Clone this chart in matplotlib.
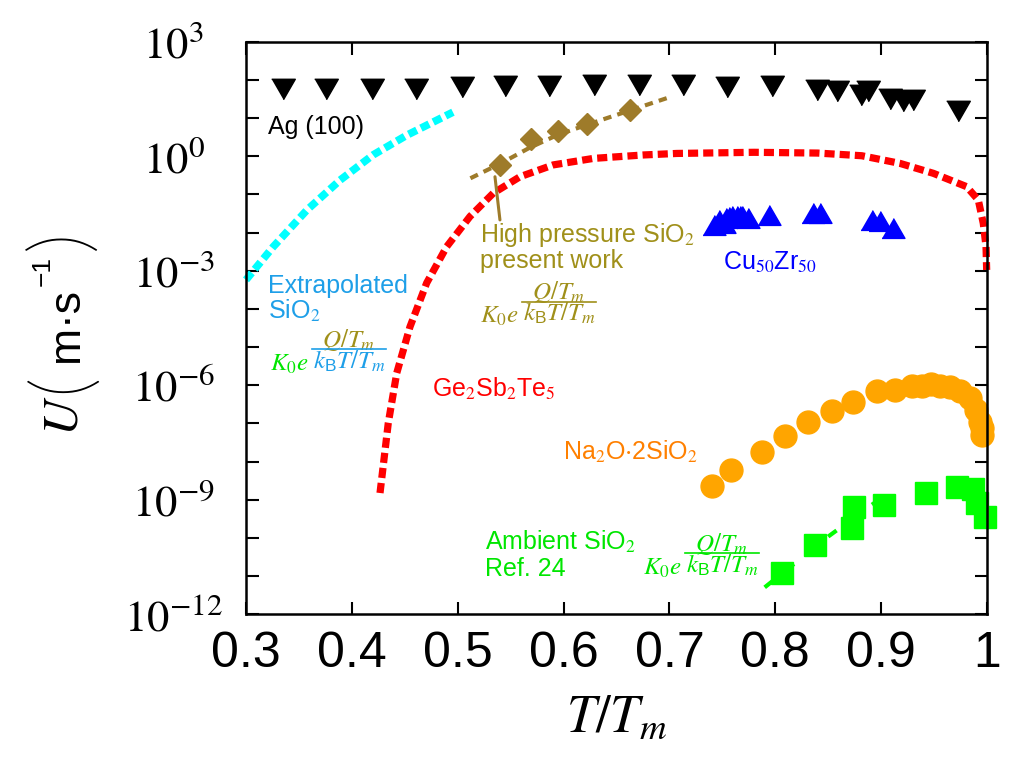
import matplotlib
matplotlib.use("Agg")
import matplotlib.pyplot as plt
import numpy as np
from matplotlib import font_manager, transforms
from matplotlib.lines import Line2D


# Ag (100), black down triangles  (T/Tm, log10 U)
AG_T = [0.335, 0.376, 0.419, 0.461, 0.504, 0.545, 0.586, 0.629, 0.671, 0.713,
        0.754, 0.797, 0.839, 0.858, 0.881, 0.888, 0.908, 0.921, 0.930, 0.973]
AG_LOGU = [1.77, 1.77, 1.76, 1.77, 1.82, 1.84, 1.83, 1.86, 1.86, 1.86,
           1.82, 1.83, 1.74, 1.70, 1.61, 1.70, 1.50, 1.45, 1.48, 1.17]

# extrapolated SiO2 fit (cyan)
EXT_T = [0.300, 0.3255, 0.3576, 0.3888, 0.420, 0.4521, 0.4955]
EXT_LOGU = [-3.24, -2.38, -1.41, -0.63, 0.03, 0.55, 1.15]

# Ge2Sb2Te5 (red)
GST_T = [0.4266, 0.4344, 0.4424, 0.4549, 0.4707, 0.4896, 0.5116, 0.5336, 0.5588,
         0.5903, 0.6281, 0.6753, 0.7069, 0.7800, 0.8400, 0.8817, 0.9178, 0.9493,
         0.9808, 0.9918, 0.9965, 0.9991, 0.9997]
GST_LOGU = [-8.82, -6.99, -5.68, -4.47, -3.32, -2.37, -1.58, -0.97, -0.54,
            -0.23, -0.06, 0.03, 0.07, 0.10, 0.08, 0.01, -0.19, -0.45,
            -0.80, -1.15, -1.76, -2.37, -2.98]

# high pressure SiO2, present work (diamonds + fit)
HP_T = [0.540, 0.569, 0.595, 0.622, 0.663]
HP_LOGU = [-0.23, 0.44, 0.65, 0.83, 1.22]
HP_FIT_T = [0.512, 0.540, 0.568, 0.594, 0.622, 0.661, 0.701]
HP_FIT_LOGU = [-0.58, -0.20, 0.22, 0.55, 0.82, 1.18, 1.55]

# Cu50Zr50 (blue triangles)
CU_T = [0.742, 0.752, 0.747, 0.753, 0.756, 0.759, 0.764, 0.767, 0.769, 0.774,
        0.794, 0.836, 0.842, 0.891, 0.899, 0.911]
CU_LOGU = [-1.80, -1.76, -1.66, -1.62, -1.60, -1.58, -1.58, -1.57, -1.58, -1.62,
           -1.55, -1.50, -1.49, -1.68, -1.70, -1.89]

# Na2O.2SiO2 (orange circles)
NA_T = [0.7399, 0.7584, 0.7872, 0.8089, 0.8306, 0.8533, 0.8731, 0.8958, 0.9128,
        0.9289, 0.9383, 0.9468, 0.9556, 0.9650, 0.9745, 0.9839, 0.9896, 0.9934,
        0.9950, 0.9950]
NA_LOGU = [-8.63, -8.22, -7.74, -7.33, -6.97, -6.66, -6.45, -6.15, -6.12,
           -6.02, -6.02, -5.97, -6.02, -6.05, -6.14, -6.34, -6.65, -6.95,
           -7.13, -7.30]

# ambient SiO2, Ref. 24 (green squares + fit)
AMB_T = [0.8066, 0.8375, 0.8727, 0.8746, 0.9030, 0.9424, 0.9714, 0.9871,
         0.9909, 0.9981]
AMB_LOGU = [-10.92, -10.18, -9.74, -9.18, -9.13, -8.81, -8.67, -8.72,
            -9.09, -9.44]
AMB_FIT_T = [0.790, 0.850, 0.907]
AMB_FIT_LOGU = [-11.29, -9.96, -8.81]

XTICKS = [0.3, 0.4, 0.5, 0.6, 0.7, 0.8, 0.9, 1.0]
XTICKLABELS = ["0.3", "0.4", "0.5", "0.6", "0.7", "0.8", "0.9", "1"]
YEXP_MAJOR = [-12, -9, -6, -3, 0, 3]

OLIVE = "#A0901A"
BROWN = "#9E7B2A"
SKY = "#1E9FE8"
GREEN = "#00E600"

TRI_UP = [(-1, -0.866), (1, -0.866), (0, 0.866)]
TRI_DOWN = [(-1, 0.866), (1, 0.866), (0, -0.866)]


def px2ax(px, py):
    # reference pixel -> axes fraction
    return (px - 246) / 741, (614.5 - py) / 573


def formula(fig, ax, px, py, c_base, c_num, c_den, size=18):
    fx, fy = px2ax(px, py)
    tr = fig.dpi_scale_trans + transforms.ScaledTranslation(fx, fy, ax.transAxes)
    ax.text(0, 0, r"$K_0e$", transform=tr, color=c_base, fontsize=size,
            ha="left", va="baseline")
    ax.text(0.79, 0.24, r"$Q/T_m$", transform=tr, color=c_num, fontsize=size,
            ha="center", va="baseline")
    ax.text(0.79, 0.02, r"$k_{\mathregular{B}}T/T_m$", transform=tr, color=c_den,
            fontsize=size, ha="center", va="baseline")
    fig.add_artist(Line2D([0.42, 1.16], [0.215, 0.215], transform=tr,
                          color=c_den, lw=1.2))


def label(ax, px, py, s, color, size=18):
    fx, fy = px2ax(px, py)
    ax.text(fx, fy, s, transform=ax.transAxes, color=color, fontsize=size,
            ha="left", va="baseline")


def ylabel_piece(fig, px, py, s, size, **kw):
    fig.text(px / 1028, 1 - py / 762, s, fontsize=size, rotation=90,
             rotation_mode="anchor", ha="left", va="baseline", **kw)


def thin_font():
    # a light-weight face for the tall parentheses of the y label
    for fam in ("Lato", "Roboto", "Open Sans", "Inter", "Noto Sans"):
        for f in font_manager.fontManager.ttflist:
            w = f.weight if isinstance(f.weight, int) else 400
            if f.name == fam and f.style == "normal" and w <= 300:
                return font_manager.FontProperties(fname=f.fname)
    return font_manager.FontProperties(family="DejaVu Sans", weight="light")


def main():
    names = {f.name for f in font_manager.fontManager.ttflist}
    sans = "Liberation Sans" if "Liberation Sans" in names else "DejaVu Sans"
    narrow = "Liberation Sans Narrow" if "Liberation Sans Narrow" in names else sans
    plt.rcParams["font.family"] = sans
    plt.rcParams["mathtext.fontset"] = "stix"

    fig = plt.figure(figsize=(10.28, 7.62), dpi=100)
    ax = fig.add_axes([0.2393, 0.1936, 0.7208, 0.7519])
    ax.set_yscale("log")
    ax.set_xlim(0.3, 1.0)
    ax.set_ylim(1e-12, 1e3)

    u = lambda v: 10.0 ** np.asarray(v)

    ax.plot(EXT_T, u(EXT_LOGU), color="#00FFFF", lw=5.5,
            linestyle=(0, (1.2, 0.6)), dash_capstyle="butt", clip_on=False, zorder=2)
    ax.plot(GST_T, u(GST_LOGU), color="#FF0000", lw=5.2,
            linestyle=(0, (1.4, 0.7)), dash_capstyle="butt", clip_on=False, zorder=2)
    ax.plot(HP_FIT_T, u(HP_FIT_LOGU), color=BROWN, lw=3.0,
            linestyle=(0, (2.0, 1.5)), dash_capstyle="butt", zorder=2)
    ax.plot(HP_T, u(HP_LOGU), "D", color=BROWN, ms=11, mec=BROWN, zorder=3)
    ax.plot(AMB_FIT_T, u(AMB_FIT_LOGU), color="#00FF00", lw=3.0,
            linestyle=(0, (2.5, 4.0)), dash_capstyle="butt", zorder=2)
    ax.plot(AMB_T, u(AMB_LOGU), "s", color="#00FF00", ms=16.5, mec="#00FF00",
            clip_on=False, zorder=3)
    ax.plot(NA_T, u(NA_LOGU), "o", color="#FFA500", ms=16.5, mec="#FFA500",
            clip_on=False, zorder=3)
    ax.plot(CU_T, u(CU_LOGU), marker=TRI_UP, ls="none", color="#0000FF",
            ms=16.5, mec="#0000FF", zorder=3)
    ax.plot(AG_T, u(AG_LOGU), marker=TRI_DOWN, ls="none", color="black",
            ms=17, zorder=3)

    # leader line for the high pressure label
    ax.annotate("", xy=(0.5352, 10 ** -0.54), xytext=(0.5399, 10 ** -1.67),
                arrowprops=dict(arrowstyle="-", color=BROWN, lw=2.2,
                                shrinkA=0, shrinkB=0))

    label(ax, 268, 134, "Ag (100)", "black")
    label(ax, 268, 293, "Extrapolated", SKY)
    label(ax, 268, 319, "SiO$_2$", SKY)
    label(ax, 480, 242, "High pressure SiO$_2$", OLIVE)
    label(ax, 480, 268, "present work", OLIVE)
    label(ax, 432, 397, "Ge$_2$Sb$_2$Te$_5$", "#FF0000")
    label(ax, 563, 460, "Na$_2$O$\\cdot$2SiO$_2$", "#FF8000")
    label(ax, 723, 270, "Cu$_{50}$Zr$_{50}$", "#0000FF")
    label(ax, 485, 550, "Ambient SiO$_2$", GREEN)
    label(ax, 485, 576, "Ref. 24", GREEN)

    formula(fig, ax, 270, 371, GREEN, OLIVE, SKY)
    formula(fig, ax, 480, 323, OLIVE, OLIVE, OLIVE)
    formula(fig, ax, 643, 575, GREEN, GREEN, GREEN)

    ax.set_xticks(XTICKS)
    ax.set_xticklabels(XTICKLABELS, fontfamily=narrow)
    ax.set_yticks([10.0 ** k for k in YEXP_MAJOR])
    ax.set_yticklabels([r"$10^{%d}$" % k for k in YEXP_MAJOR])
    ax.set_yticks([10.0 ** k for k in range(-12, 4)], minor=True)
    ax.yaxis.set_minor_formatter(plt.NullFormatter())
    ax.tick_params(which="both", direction="in", top=True, right=True,
                   length=9, width=1.5)
    ax.tick_params(axis="x", labelsize=36, pad=12)
    ax.tick_params(axis="y", labelsize=32, pad=52)
    for lab in ax.get_yticklabels():
        lab.set_horizontalalignment("center")
    for sp in ax.spines.values():
        sp.set_linewidth(1.8)
        sp.set_zorder(5)

    ax.set_xlabel(r"$T/T_m$", fontsize=38, va="center")
    ax.xaxis.set_label_coords(0.5, -0.18)

    # y label: U (m.s^-1) with tall parentheses, built from rotated pieces
    paren = thin_font()
    ylabel_piece(fig, 78, 436, r"$U$", 36)
    ylabel_piece(fig, 86, 393, "(", 58, fontproperties=paren)
    ylabel_piece(fig, 78, 362, "m\u00b7s", 32)
    ylabel_piece(fig, 50, 286, "\u22121", 19)
    ylabel_piece(fig, 86, 250, ")", 58, fontproperties=paren)

    fig.savefig("out.png", dpi=100)


if __name__ == "__main__":
    main()
